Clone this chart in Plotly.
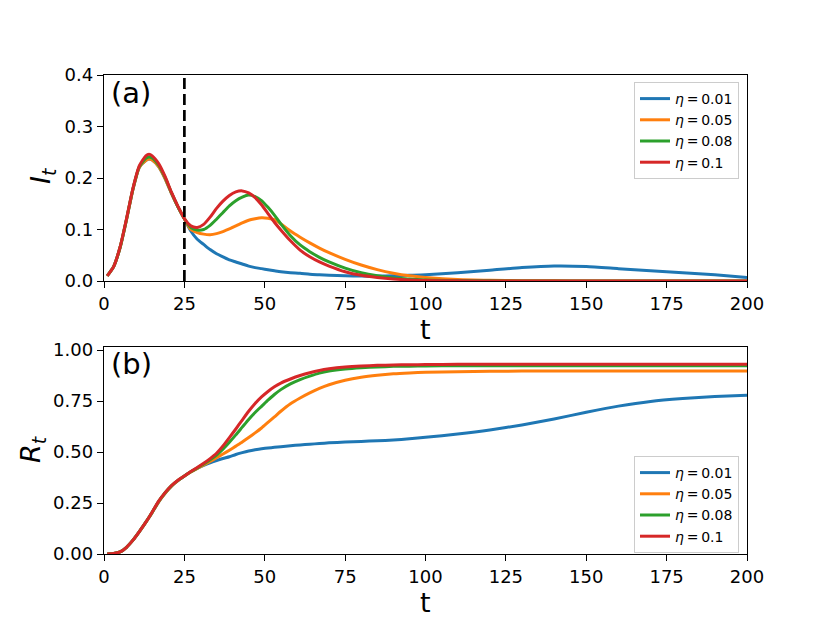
import plotly.graph_objects as go

# ---------------- data ----------------
t = [1, 3, 5, 7, 9, 11, 13, 14, 15, 17, 19, 21, 23, 25, 27, 29, 31, 33, 35, 37,
     39, 41, 43, 45, 47, 49, 51, 53, 55, 58, 61, 64, 67, 70, 75, 80, 85, 90, 95,
     100, 110, 120, 130, 140, 150, 160, 170, 180, 190, 200]

eta_labels = ["<i>η</i>\u2009=\u20090.01", "<i>η</i>\u2009=\u20090.05",
              "<i>η</i>\u2009=\u20090.08", "<i>η</i>\u2009=\u20090.1"]
colors = ["#1f77b4", "#ff7f0e", "#2ca02c", "#d62728"]

I_eta001 = [0.010, 0.028, 0.065, 0.119, 0.178, 0.221, 0.234, 0.237, 0.235, 0.222,
            0.199, 0.170, 0.144, 0.121, 0.097, 0.081, 0.071, 0.061, 0.053, 0.047,
            0.041, 0.037, 0.033, 0.029, 0.026, 0.024, 0.022, 0.020, 0.018, 0.016,
            0.015, 0.013, 0.012, 0.011, 0.010, 0.0095, 0.0095, 0.010, 0.011,
            0.012, 0.016, 0.021, 0.026, 0.029, 0.028, 0.024, 0.020, 0.016, 0.012, 0.007]
I_eta005 = [0.010, 0.028, 0.065, 0.119, 0.178, 0.221, 0.234, 0.237, 0.235, 0.222,
            0.199, 0.170, 0.144, 0.121, 0.100, 0.094, 0.091, 0.090, 0.092, 0.096,
            0.101, 0.107, 0.113, 0.118, 0.121, 0.123, 0.122, 0.119, 0.111, 0.097,
            0.085, 0.074, 0.064, 0.055, 0.042, 0.031, 0.022, 0.015, 0.010,
            0.007, 0.003, 0.0015, 0.0007, 0.0003, 0.0001, 0.0, 0.0, 0.0, 0.0, 0.0]
I_eta008 = [0.010, 0.028, 0.065, 0.120, 0.179, 0.222, 0.238, 0.241, 0.239, 0.225,
            0.201, 0.171, 0.144, 0.121, 0.104, 0.099, 0.100, 0.108, 0.120, 0.133,
            0.146, 0.156, 0.163, 0.167, 0.164, 0.156, 0.143, 0.128, 0.111, 0.088,
            0.070, 0.057, 0.046, 0.037, 0.025, 0.016, 0.010, 0.006, 0.004,
            0.002, 0.001, 0.0003, 0.0001, 0.0, 0.0, 0.0, 0.0, 0.0, 0.0, 0.0]
I_eta010 = [0.010, 0.028, 0.066, 0.121, 0.180, 0.224, 0.243, 0.246, 0.243, 0.228,
            0.203, 0.172, 0.145, 0.121, 0.107, 0.104, 0.110, 0.124, 0.141, 0.155,
            0.166, 0.173, 0.175, 0.171, 0.162, 0.148, 0.131, 0.114, 0.099, 0.078,
            0.060, 0.047, 0.037, 0.029, 0.018, 0.011, 0.007, 0.004, 0.002,
            0.001, 0.0003, 0.0001, 0.0, 0.0, 0.0, 0.0, 0.0, 0.0, 0.0, 0.0]

R_eta001 = [0.000, 0.002, 0.010, 0.033, 0.068, 0.110, 0.155, 0.179, 0.204, 0.256,
            0.298, 0.333, 0.360, 0.382, 0.403, 0.420, 0.434, 0.447, 0.458, 0.468,
            0.477, 0.488, 0.497, 0.505, 0.511, 0.516, 0.520, 0.523, 0.526, 0.531,
            0.535, 0.538, 0.542, 0.545, 0.549, 0.552, 0.555, 0.559, 0.565,
            0.572, 0.588, 0.608, 0.633, 0.662, 0.695, 0.725, 0.748, 0.762, 0.772, 0.779]
R_eta005 = [0.000, 0.002, 0.010, 0.033, 0.068, 0.110, 0.155, 0.179, 0.204, 0.256,
            0.298, 0.333, 0.360, 0.382, 0.402, 0.420, 0.437, 0.454, 0.472, 0.490,
            0.509, 0.529, 0.549, 0.571, 0.594, 0.618, 0.645, 0.672, 0.700, 0.737,
            0.765, 0.790, 0.812, 0.830, 0.852, 0.867, 0.877, 0.884, 0.888,
            0.891, 0.894, 0.896, 0.897, 0.897, 0.897, 0.897, 0.897, 0.897, 0.897, 0.897]
R_eta008 = [0.000, 0.002, 0.010, 0.033, 0.068, 0.110, 0.156, 0.180, 0.205, 0.258,
            0.300, 0.335, 0.361, 0.383, 0.403, 0.422, 0.441, 0.462, 0.485, 0.514,
            0.548, 0.584, 0.622, 0.660, 0.694, 0.724, 0.754, 0.782, 0.806, 0.834,
            0.855, 0.872, 0.887, 0.897, 0.907, 0.913, 0.917, 0.920, 0.921,
            0.922, 0.923, 0.923, 0.923, 0.923, 0.923, 0.923, 0.923, 0.923, 0.923, 0.923]
R_eta010 = [0.000, 0.002, 0.010, 0.033, 0.068, 0.110, 0.156, 0.180, 0.206, 0.259,
            0.301, 0.336, 0.362, 0.383, 0.404, 0.424, 0.445, 0.468, 0.494, 0.530,
            0.571, 0.613, 0.657, 0.700, 0.738, 0.770, 0.797, 0.820, 0.838, 0.858,
            0.875, 0.889, 0.900, 0.908, 0.917, 0.922, 0.925, 0.927, 0.928,
            0.929, 0.930, 0.930, 0.930, 0.930, 0.930, 0.930, 0.930, 0.930, 0.930, 0.930]

I_series = [I_eta001, I_eta005, I_eta008, I_eta010]
R_series = [R_eta001, R_eta005, R_eta008, R_eta010]

cutoff_t = 25
x_ticks = [0, 25, 50, 75, 100, 125, 150, 175, 200]
I_ticks = [0.0, 0.1, 0.2, 0.3, 0.4]
R_ticks = [0.0, 0.25, 0.5, 0.75, 1.0]

# ---------------- figure ----------------
# page body has an 8px margin; the figure fills the rest of the 830x623 window
OFF = 8
FW, FH = 830 - OFF, 623 - OFF
FONT = "DejaVu Sans"


def px(X):
    return (X - OFF) / FW


def py(Y):
    return 1 - (Y - OFF) / FH


fig = go.Figure()

for lab, col, ys in zip(eta_labels, colors, I_series):
    fig.add_trace(go.Scatter(x=t, y=ys, mode="lines", name=lab,
                             line=dict(color=col, width=3, shape="spline", smoothing=0.6),
                             xaxis="x", yaxis="y", legend="legend"))
for lab, col, ys in zip(eta_labels, colors, R_series):
    fig.add_trace(go.Scatter(x=t, y=ys, mode="lines", name=lab,
                             line=dict(color=col, width=3, shape="spline", smoothing=0.6),
                             xaxis="x2", yaxis="y2", legend="legend2"))

xdom = [px(104), px(747)]
top_dom = [py(281), py(75)]
bot_dom = [py(554), py(347)]

axis_common = dict(showline=True, mirror=True, linecolor="black", linewidth=1.4,
                   ticks="outside", ticklen=6, tickwidth=1.4, tickcolor="black",
                   showgrid=False, zeroline=False, automargin=False,
                   tickfont=dict(family=FONT, size=18, color="black"))

legend_common = dict(xanchor="right", yanchor="top", bgcolor="white",
                     bordercolor="#cccccc", borderwidth=1, itemwidth=30,
                     font=dict(family=FONT, size=14, color="black"))

fig.update_layout(
    width=FW, height=FH, autosize=False,
    margin=dict(l=0, r=0, t=0, b=0, autoexpand=False),
    paper_bgcolor="white", plot_bgcolor="white",
    showlegend=True,
    xaxis=dict(domain=xdom, anchor="y", range=[0, 200], tickvals=x_ticks, **axis_common),
    yaxis=dict(domain=top_dom, anchor="x", range=[0, 0.4], tickvals=I_ticks,
               tickformat=".1f", **axis_common),
    xaxis2=dict(domain=xdom, anchor="y2", range=[0, 200], tickvals=x_ticks, **axis_common),
    yaxis2=dict(domain=bot_dom, anchor="x2", range=[0, 1.015], tickvals=R_ticks,
                tickformat=".2f", **axis_common),
    legend=dict(x=px(739), y=py(82), **legend_common),
    legend2=dict(x=px(739), y=py(456), **legend_common),
)

fig.add_shape(type="line", xref="x", yref="y", x0=cutoff_t, x1=cutoff_t, y0=0, y1=0.4,
              line=dict(color="black", width=2.7, dash="11px,5px"))

panel_font = dict(family=FONT, size=29, color="black")
label_font = dict(family=FONT, size=27, color="black")
fig.add_annotation(text="(a)", xref="paper", yref="paper", x=px(109), y=py(93),
                   xanchor="left", yanchor="middle", showarrow=False, font=panel_font)
fig.add_annotation(text="(b)", xref="paper", yref="paper", x=px(109), y=py(364),
                   xanchor="left", yanchor="middle", showarrow=False, font=panel_font)
fig.add_annotation(text="t", xref="paper", yref="paper", x=px(425), y=py(329),
                   xanchor="center", yanchor="middle", showarrow=False, font=label_font)
fig.add_annotation(text="t", xref="paper", yref="paper", x=px(425), y=py(602),
                   xanchor="center", yanchor="middle", showarrow=False, font=label_font)
fig.add_annotation(text="<i>I</i><sub><i>t</i></sub>", xref="paper", yref="paper",
                   x=px(42), y=py(176), xanchor="center", yanchor="middle",
                   textangle=-90, showarrow=False, font=label_font)
fig.add_annotation(text="<i>R</i><sub><i>t</i></sub>", xref="paper", yref="paper",
                   x=px(32), y=py(450), xanchor="center", yanchor="middle",
                   textangle=-90, showarrow=False, font=label_font)

fig.write_html("out.html")
